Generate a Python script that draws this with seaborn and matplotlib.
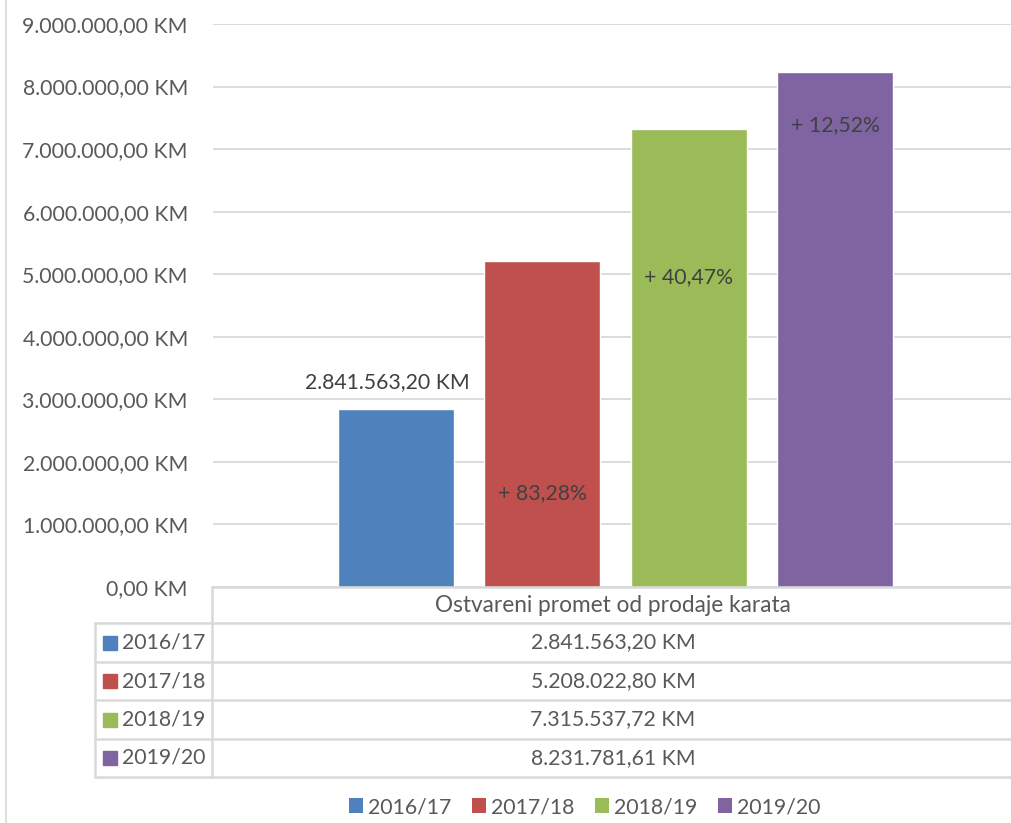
import numpy as np
import pandas as pd
import matplotlib
matplotlib.use('Agg')
import matplotlib.pyplot as plt
from matplotlib.lines import Line2D
from matplotlib.patches import Patch
import seaborn as sns

# Chart data
category = 'Ostvareni promet od prodaje karata'
seasons = ['2016/17', '2017/18', '2018/19', '2019/20']
revenue = [2841563.20, 5208022.80, 7315537.72, 8231781.61]
colors = ['#4f81bd', '#c0504d', '#9bbb59', '#8064a2']
y_ticks = [0, 1e6, 2e6, 3e6, 4e6, 5e6, 6e6, 7e6, 8e6, 9e6]

TEXT = '#595959'
DARK = '#404040'
LINE = '#d9d9d9'
FS = 15.3
W, H = 1012, 823


def km(v):
    """Format number as 1.234.567,89 KM"""
    s = f'{v:,.2f}'.replace(',', 'X').replace('.', ',').replace('X', '.')
    return s + ' KM'


def px(x, y):
    # pixel position -> figure fraction
    return x / W, 1 - y / H


sns.set_theme(style='white')
plt.rcParams['font.family'] = ['Lato', 'DejaVu Sans']

df = pd.DataFrame({'kategorija': category, 'sezona': seasons, 'promet': revenue})

fig = plt.figure(figsize=(W / 100, H / 100), dpi=100)
left, top = px(213, 24)
right, bottom = px(1018, 587)
ax = fig.add_axes([left, bottom, right - left, top - bottom])

sns.barplot(data=df, x='kategorija', y='promet', hue='sezona', hue_order=seasons,
            palette=colors, width=0.728, gap=0.208, saturation=1, legend=False, ax=ax)

ax.set_xlim(-0.5, 0.5)
ax.set_ylim(0, 9e6)
ax.set_yticks(y_ticks)
ax.set_yticklabels([km(v) for v in y_ticks], fontsize=FS, color=TEXT)
ax.set_xticks([])
ax.set_xlabel('')
ax.set_ylabel('')
ax.tick_params(axis='y', length=0, pad=18)
ax.yaxis.grid(True, color=LINE, linewidth=1.3)
ax.set_axisbelow(True)
for side in ['top', 'right', 'left', 'bottom']:
    ax.spines[side].set_visible(False)

# Labels on bars: first value, then growth vs previous season
bars = ax.patches
label_frac = [None, 0.288, 0.678, 0.897]
b0 = bars[0]
ax.text(b0.get_x() + b0.get_width() / 2 - 0.01, revenue[0] + 0.44e6, km(revenue[0]),
        ha='center', va='center', fontsize=FS, color=DARK)
for i in range(1, len(revenue)):
    growth = (revenue[i] / revenue[i - 1] - 1) * 100
    txt = '+ ' + f'{growth:.2f}'.replace('.', ',') + '%'
    b = bars[i]
    ax.text(b.get_x() + b.get_width() / 2, revenue[i] * label_frac[i], txt,
            ha='center', va='center', fontsize=FS, color=DARK)

# Data table under the plot
row_y = [587, 623, 662, 700, 739, 777]
lw = 1.8
fig.add_artist(Line2D(*zip(px(212, 587), px(1012, 587)), color=LINE, lw=lw))
for y in row_y[1:]:
    fig.add_artist(Line2D(*zip(px(95, y), px(1012, y)), color=LINE, lw=lw))
fig.add_artist(Line2D(*zip(px(212, 587), px(212, 777)), color=LINE, lw=lw))
fig.add_artist(Line2D(*zip(px(95, 623), px(95, 777)), color=LINE, lw=lw))

cx = 613
fig.text(*px(cx, 605), category, ha='center', va='center', fontsize=FS + 1, color=TEXT)
for i, (s, v, c) in enumerate(zip(seasons, revenue, colors)):
    yc = (row_y[i + 1] + row_y[i + 2]) / 2
    fig.text(*px(cx, yc), km(v), ha='center', va='center', fontsize=FS, color=TEXT)
    x0, y0 = px(103, yc + 7)
    fig.add_artist(plt.Rectangle((x0, y0), 14 / W, 14 / H, color=c, transform=fig.transFigure))
    fig.text(*px(122, yc), s, ha='left', va='center', fontsize=FS, color=TEXT)

# Left chart border
fig.add_artist(Line2D(*zip(px(6, 0), px(6, 823)), color=LINE, lw=1.2))

# Bottom legend
handles = [Patch(facecolor=c, edgecolor='none') for c in colors]
fig.legend(handles, seasons, loc='center', bbox_to_anchor=px(585, 807), ncol=4,
           frameon=False, fontsize=FS, labelcolor=TEXT, handlelength=0.65,
           handleheight=0.65, handletextpad=0.25, columnspacing=0.96)

fig.savefig('out.png', dpi=100, facecolor='white')
